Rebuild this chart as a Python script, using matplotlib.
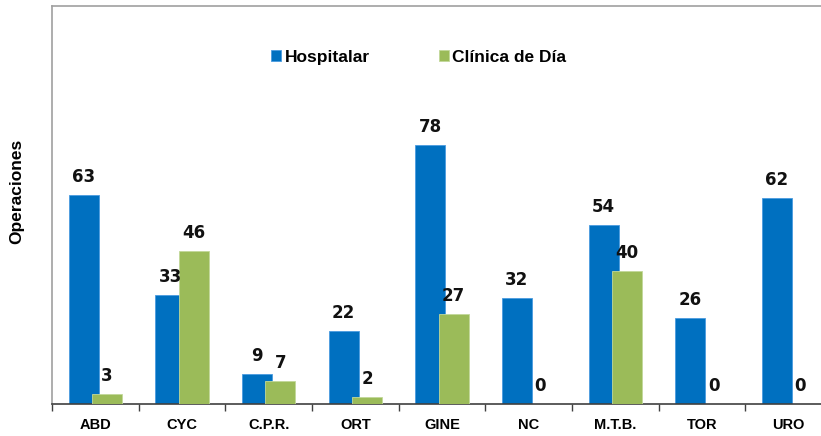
import matplotlib
matplotlib.use("Agg")
import matplotlib.pyplot as plt
import numpy as np

categories = ["ABD", "CYC", "C.P.R.", "ORT", "GINE", "NC", "M.T.B.", "TOR", "URO"]
hospitalar = [63, 33, 9, 22, 78, 32, 54, 26, 62]
clinica_dia = [3, 46, 7, 2, 27, 0, 40, 0, 0]
series_names = ["Hospitalar", "Clínica de Día"]

BLUE = "#0070C0"
GREEN = "#9BBB59"

W, H = 821, 436
fig = plt.figure(figsize=(W / 100, H / 100), dpi=100)
left, right, bottom, top = 52, 832, 404, 6
ax = fig.add_axes([left / W, (H - bottom) / H, (right - left) / W, (bottom - top) / H])

x = np.arange(len(categories))
bw = 0.346
off = 0.135
b1 = ax.bar(x - off, hospitalar, bw, color=BLUE, edgecolor="#4a9be0", linewidth=0.6, zorder=2,
            label=series_names[0])
b2 = ax.bar(x + off, clinica_dia, bw, color=GREEN, edgecolor="#c2d89a", linewidth=0.6, zorder=3,
            label=series_names[1])

for bars, vals in ((b1, hospitalar), (b2, clinica_dia)):
    for r, v in zip(bars, vals):
        ax.annotate(str(v), (r.get_x() + r.get_width() / 2, v), xytext=(0, 6.5),
                    textcoords="offset points", ha="center", va="bottom",
                    fontsize=12, fontweight="bold", family="DejaVu Sans", color="#111111")

ax.set_xlim(-0.5, len(categories) - 0.5)
ax.set_ylim(0, 120)
ax.set_yticks([])
ax.set_xticks(x)
ax.set_xticklabels(categories, fontsize=10.5, fontweight="bold", family="Liberation Sans")
ax.tick_params(axis="x", which="major", length=0, pad=10)
ax.set_xticks(np.arange(-0.5, len(categories), 1.0), minor=True)
ax.tick_params(axis="x", which="minor", length=5, width=1, color="#404040", direction="out")

ax.spines["bottom"].set_color("#404040")
ax.spines["bottom"].set_linewidth(1.2)
for s in ("left", "top", "right"):
    ax.spines[s].set_color("#a0a0a0")
    ax.spines[s].set_linewidth(1.2)

fig.text(17 / W, 1 - 191 / H, "Operaciones", rotation=90, ha="center", va="center",
         fontsize=12.5, fontweight="bold", family="Liberation Sans")

fig.legend(handles=[b1, b2], labels=series_names, loc="center", bbox_to_anchor=(0.51, 0.869),
           ncol=2, frameon=False, handlelength=0.55, handleheight=0.55, handletextpad=0.2,
           columnspacing=4.0, prop={"family": "Liberation Sans", "weight": "bold", "size": 12.5})

fig.savefig("out.png", dpi=100)
